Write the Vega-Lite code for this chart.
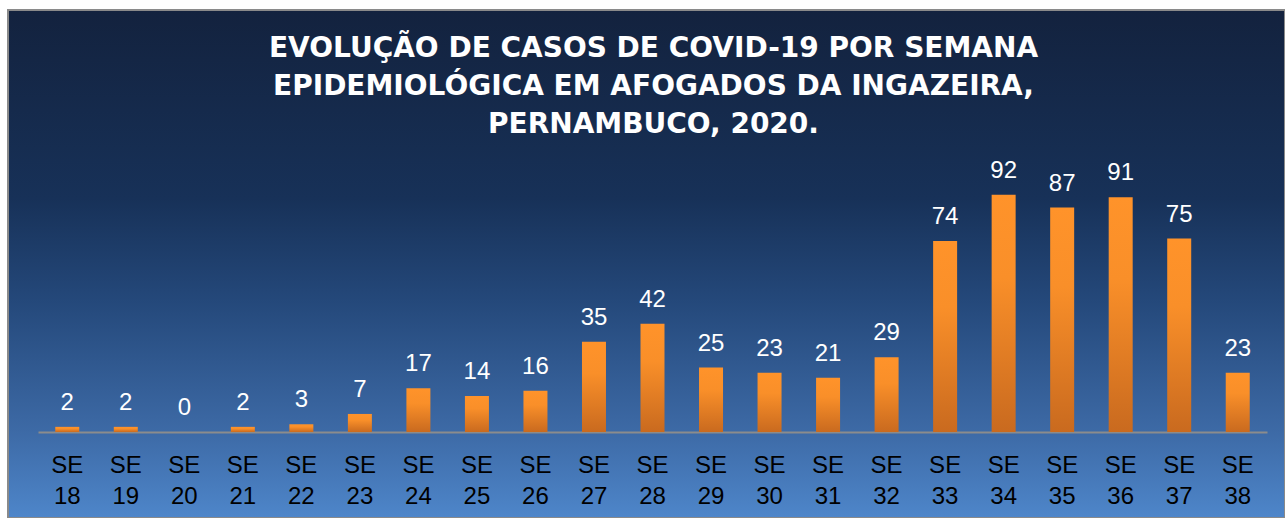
{
  "$schema": "https://vega.github.io/schema/vega-lite/v6.json",
  "width": 1277,
  "height": 508,
  "autosize": {"type": "none"},
  "padding": {"left": 8, "top": 10, "right": 0, "bottom": 0},
  "background": "white",
  "view": {
    "stroke": "#8a8a8a",
    "strokeWidth": 2,
    "fill": {
      "gradient": "linear",
      "x1": 0, "y1": 0, "x2": 0, "y2": 1,
      "stops": [
        {"offset": 0, "color": "#13223E"},
        {"offset": 0.37, "color": "#173158"},
        {"offset": 0.57, "color": "#24487A"},
        {"offset": 0.83, "color": "#3D6AA6"},
        {"offset": 1, "color": "#4E86CA"}
      ]
    }
  },
  "title": {
    "text": ["EVOLUÇÃO DE CASOS DE COVID-19 POR SEMANA", "EPIDEMIOLÓGICA EM AFOGADOS DA INGAZEIRA,", "PERNAMBUCO, 2020."],
    "font": "DejaVu Sans",
    "fontSize": 28,
    "fontWeight": "bold",
    "color": "white",
    "lineHeight": 38,
    "anchor": "middle",
    "frame": "group",
    "baseline": "top",
    "offset": -129,
    "dx": 7
  },
  "data": {
    "values": [
      {"semana": "SE 18", "casos": 2},
      {"semana": "SE 19", "casos": 2},
      {"semana": "SE 20", "casos": 0},
      {"semana": "SE 21", "casos": 2},
      {"semana": "SE 22", "casos": 3},
      {"semana": "SE 23", "casos": 7},
      {"semana": "SE 24", "casos": 17},
      {"semana": "SE 25", "casos": 14},
      {"semana": "SE 26", "casos": 16},
      {"semana": "SE 27", "casos": 35},
      {"semana": "SE 28", "casos": 42},
      {"semana": "SE 29", "casos": 25},
      {"semana": "SE 30", "casos": 23},
      {"semana": "SE 31", "casos": 21},
      {"semana": "SE 32", "casos": 29},
      {"semana": "SE 33", "casos": 74},
      {"semana": "SE 34", "casos": 92},
      {"semana": "SE 35", "casos": 87},
      {"semana": "SE 36", "casos": 91},
      {"semana": "SE 37", "casos": 75},
      {"semana": "SE 38", "casos": 23}
    ]
  },
  "encoding": {
    "x": {
      "field": "semana",
      "type": "nominal",
      "sort": null,
      "scale": {"range": [30, 1259], "paddingInner": 0.59, "paddingOuter": 0.295},
      "axis": {
        "title": null,
        "orient": "bottom",
        "offset": -86,
        "domainColor": "#8c8c8c",
        "domainWidth": 2,
        "ticks": false,
        "tickSize": 0,
        "labelPadding": 21,
        "labelAngle": 0,
        "labelFont": "Liberation Sans",
        "labelFontSize": 24,
        "labelColor": "black",
        "labelLineHeight": 31,
        "labelBaseline": "top",
        "labelExpr": "split(datum.label, ' ')",
        "grid": false
      }
    },
    "y": {
      "field": "casos",
      "type": "quantitative",
      "scale": {"domain": [-33.33, 163.57], "nice": false, "zero": false},
      "axis": null
    }
  },
  "layer": [
    {
      "mark": {
        "type": "bar",
        "color": {
          "gradient": "linear",
          "x1": 0, "y1": 0, "x2": 0, "y2": 1,
          "stops": [
            {"offset": 0, "color": "#FF932A"},
            {"offset": 0.35, "color": "#F98F29"},
            {"offset": 1, "color": "#C96A1F"}
          ]
        }
      },
      "encoding": {
        "y2": {"datum": 0}
      }
    },
    {
      "mark": {
        "type": "text",
        "font": "Liberation Sans",
        "fontSize": 24,
        "color": "white",
        "baseline": "alphabetic",
        "dy": -17
      },
      "encoding": {
        "text": {"field": "casos", "type": "quantitative"}
      }
    }
  ]
}
